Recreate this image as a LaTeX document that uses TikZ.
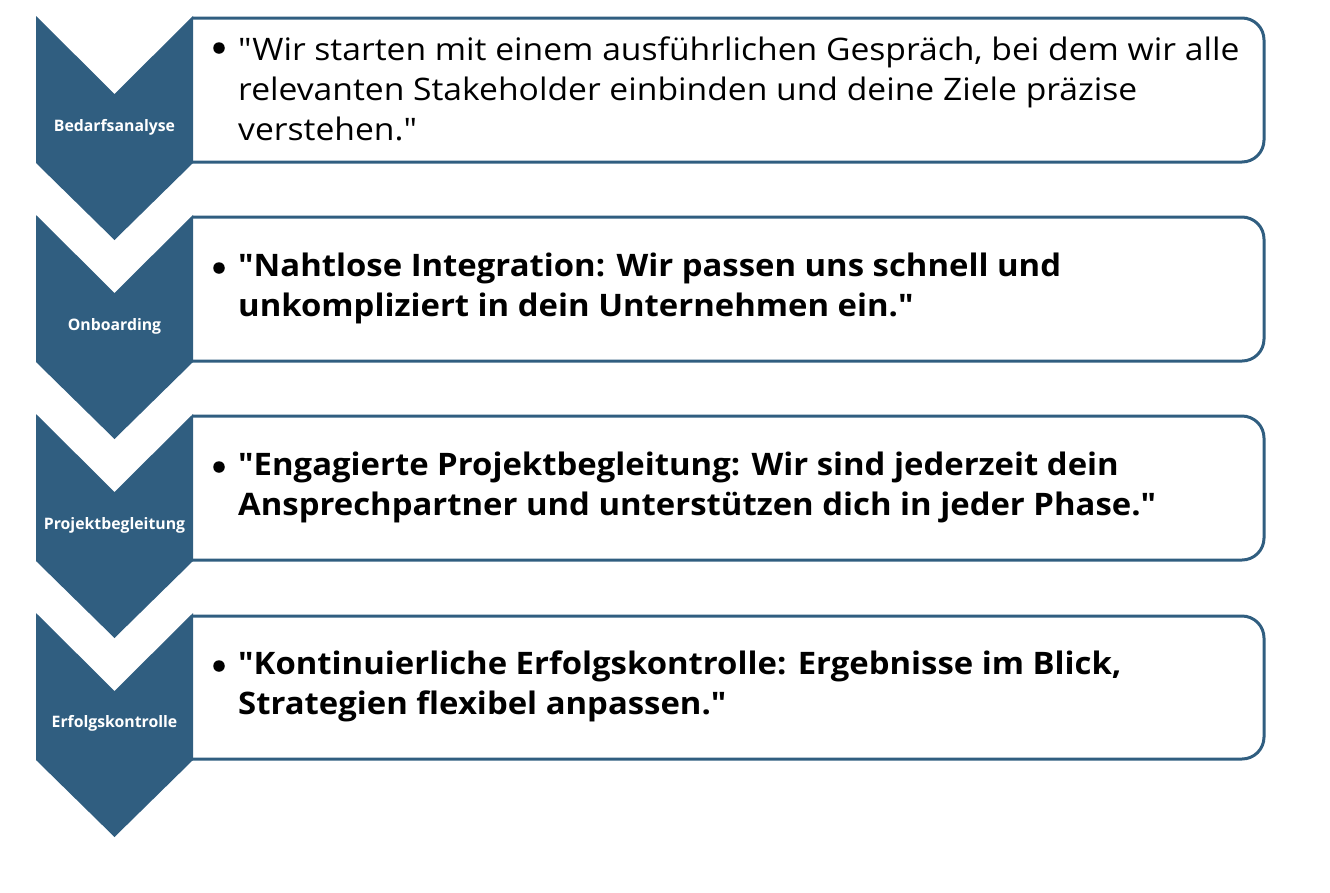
\documentclass[tikz,border=0pt]{standalone}
\usepackage{fontspec}
\setmainfont{Open Sans}[Ligatures=TeXOff]
\newfontfamily\bodyreg{Open Sans}[Ligatures=TeXOff, FakeStretch=1.085]
\newfontfamily\bodybf{Open Sans}[Ligatures=TeXOff, FakeStretch=1.06, UprightFont=*-Bold]
\definecolor{chev}{RGB}{48,94,128}
\tikzset{
  chevshape/.style={fill=chev, draw=none},
  boxshape/.style={draw=chev, line width=3pt, rounded corners=22pt},
  chevlabel/.style={text=white, font=\fontsize{15.8}{18}\selectfont\bfseries, inner sep=0pt},
  bodytext/.style={font=\fontsize{31}{40}\selectfont\bodyreg, align=left, anchor=west, inner sep=0pt, text=black},
  bodybold/.style={bodytext, font=\fontsize{31}{40}\selectfont\bodybf},
  bullet/.style={circle, fill=black, minimum size=11.5pt, inner sep=0pt}
}
\begin{document}
\begin{tikzpicture}[x=1pt,y=-1pt]
\useasboundingbox (0,0) rectangle (1330,892);
% boxes
\foreach \t/\b in {18/162, 217/361, 416/560, 616/759}{
  \draw[boxshape] (192,\t) -- (1264,\t) -- (1264,\b) -- (192,\b);
}
% chevrons
\foreach \y in {16,215,414,613}{
  \fill[chevshape] (36,\y) -- (114.5,\y+78) -- (193,\y) -- (193,\y+147) -- (114.5,\y+224) -- (36,\y+147) -- cycle;
}
\node[chevlabel] (l1) at (114.5,127.5) {Bedarfsanalyse};
\node[chevlabel] (l2) at (114.5,326.5) {Onboarding};
\node[chevlabel] (l3) at (114.5,525.5) {Projektbegleitung};
\node[chevlabel] (l4) at (114.5,723.5) {Erfolgskontrolle};
% texts
\node[bullet] (b1) at (219,48) {};
\node[bodytext] (t1) at (238,89) {"Wir starten mit einem ausführlichen Gespräch, bei dem wir alle\\relevanten Stakeholder einbinden und deine Ziele präzise\\verstehen."};
\node[bullet] (b2) at (219,268) {};
\node[bodybold] (t2) at (238,288) {"Nahtlose Integration: Wir passen uns schnell und\\unkompliziert in dein Unternehmen ein."};
\node[bullet] (b3) at (219,467) {};
\node[bodybold] (t3) at (238,487) {"Engagierte Projektbegleitung: Wir sind jederzeit dein\\Ansprechpartner und unterstützen dich in jeder Phase."};
\node[bullet] (b4) at (219,666) {};
\node[bodybold] (t4) at (238,686) {"Kontinuierliche Erfolgskontrolle: Ergebnisse im Blick,\\Strategien flexibel anpassen."};
\end{tikzpicture}
\end{document}
